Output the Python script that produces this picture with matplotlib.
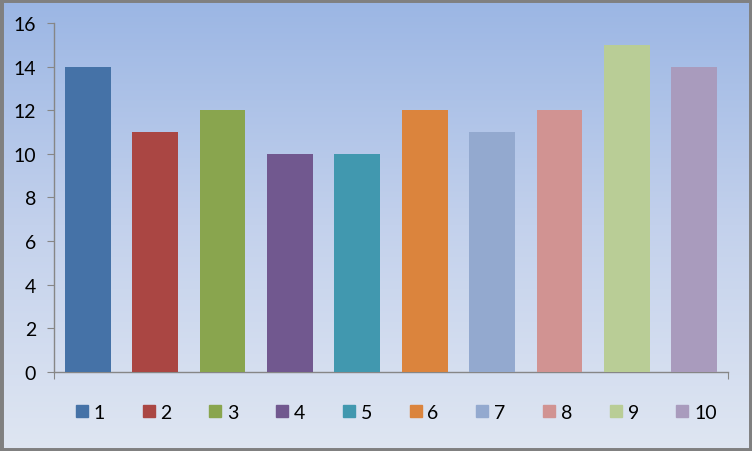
import numpy as np
import matplotlib
matplotlib.use("Agg")
import matplotlib.pyplot as plt
from matplotlib.lines import Line2D
from matplotlib.patches import Rectangle
from matplotlib.colors import LinearSegmentedColormap

# series 1..10, one value each
series_names = ["1", "2", "3", "4", "5", "6", "7", "8", "9", "10"]
values = [14, 11, 12, 10, 10, 12, 11, 12, 15, 14]
colors = ["#4572a7", "#aa4643", "#89a54e", "#71588f", "#4198af",
          "#db843d", "#93a9cf", "#d19392", "#b9cd96", "#a99bbd"]
y_ticks = [0, 2, 4, 6, 8, 10, 12, 14, 16]

plt.rcParams["font.family"] = ["Lato", "DejaVu Sans"]

fig = plt.figure(figsize=(7.52, 4.52), dpi=100)

# background gradient, blue at the top fading to pale blue-grey
bg = fig.add_axes([0, 0, 1, 1], zorder=-10)
grad_cmap = LinearSegmentedColormap.from_list("bg", ["#dfe6f2", "#c3d1ec", "#9bb6e4"])
grad = np.linspace(0, 1, 256).reshape(-1, 1)
bg.imshow(grad, aspect="auto", cmap=grad_cmap, origin="lower", extent=[0, 1, 0, 1])
bg.set_axis_off()
bg.add_patch(Rectangle((0, 0), 1, 1, transform=bg.transAxes, fill=False,
                       edgecolor="#808080", linewidth=5, clip_on=False))

ax = fig.add_axes([0.0718, 0.1748, 0.8963, 0.7721])
ax.patch.set_alpha(0)
x = np.arange(len(values))
ax.bar(x, values, width=0.68, color=colors, zorder=3)

ax.set_xlim(-0.5, len(values) - 0.5)
ax.set_ylim(0, 16)
ax.set_yticks(y_ticks)
ax.set_xticks([-0.5, len(values) - 0.5])
ax.set_xticklabels([])
for side in ("top", "right"):
    ax.spines[side].set_visible(False)
for side in ("left", "bottom"):
    ax.spines[side].set_color("#868686")
    ax.spines[side].set_linewidth(1)
ax.tick_params(axis="both", direction="out", length=5, color="#868686",
               labelsize=14, labelcolor="#000000", pad=8)

handles = [Line2D([], [], linestyle="none", marker="s", markersize=8,
                  markerfacecolor=c, markeredgecolor=c) for c in colors]
fig.legend(handles, series_names, loc="center", bbox_to_anchor=(0.5275, 0.086),
           ncol=10, frameon=False, fontsize=14, handlelength=0.56,
           handletextpad=0.33, columnspacing=1.96, borderpad=0)

fig.savefig("out.png", dpi=100)
